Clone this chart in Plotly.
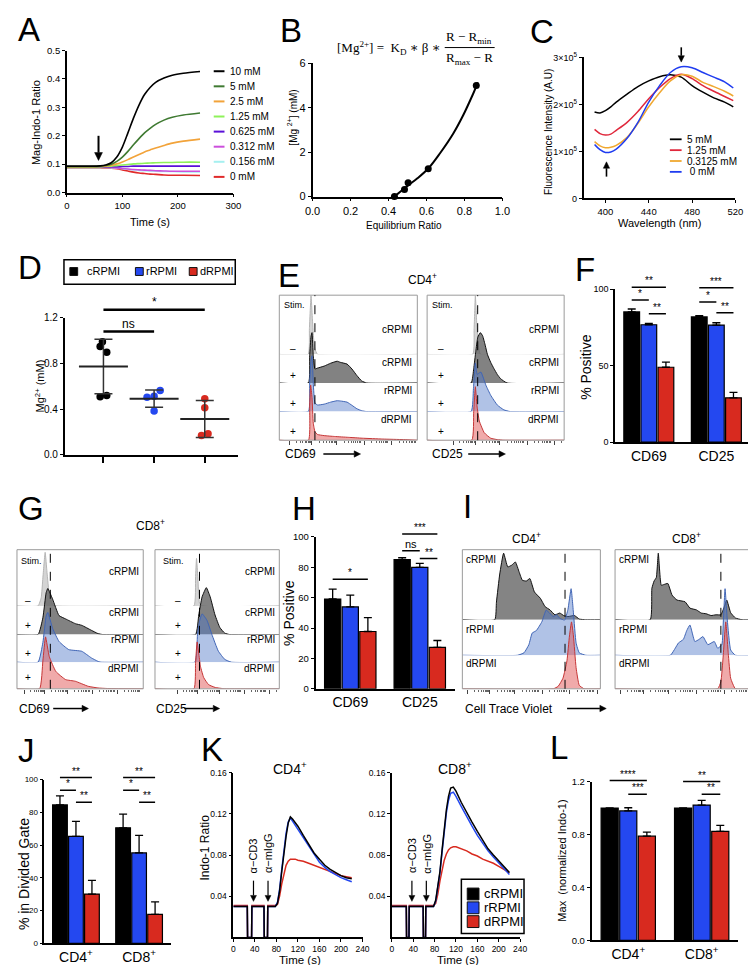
import math
import statistics
import plotly.graph_objects as go

W, H = 756, 965
FONT = "Arial, 'Liberation Sans', Helvetica, sans-serif"
SERIF = "'Liberation Serif', 'DejaVu Serif', 'Times New Roman', serif"
BLACK, BLUE, RED = "#000000", "#2448f0", "#d82a1f"

# ============================ DATA ============================
# ---- A: Mag-Indo-1 ratio vs time for Mg standards
A_time = [0, 20, 40, 60, 70, 80, 90, 100, 110, 120, 130, 140, 150, 160, 175, 190, 210, 240]
A_labels = ["10 mM", "5 mM", "2.5 mM", "1.25 mM", "0.625 mM", "0.312 mM", "0.156 mM", "0 mM"]
A_colors = ["#000000", "#3f7a32", "#f2a33a", "#8ef25a", "#5a10d8", "#cc4fdc", "#a6f0f0", "#e02a2a"]
A_10mM = [0.093, 0.093, 0.093, 0.094, 0.097, 0.105, 0.125, 0.160, 0.210, 0.262, 0.308, 0.345, 0.370, 0.388, 0.403, 0.413, 0.420, 0.426]
A_5mM = [0.092, 0.092, 0.092, 0.093, 0.095, 0.100, 0.110, 0.125, 0.145, 0.168, 0.190, 0.210, 0.226, 0.240, 0.255, 0.265, 0.273, 0.280]
A_2p5mM = [0.091, 0.091, 0.091, 0.092, 0.093, 0.096, 0.101, 0.108, 0.116, 0.125, 0.134, 0.143, 0.150, 0.157, 0.166, 0.174, 0.181, 0.188]
A_1p25mM = [0.090, 0.090, 0.090, 0.091, 0.092, 0.093, 0.095, 0.097, 0.099, 0.101, 0.102, 0.103, 0.104, 0.105, 0.106, 0.106, 0.107, 0.107]
A_0p625mM = [0.089, 0.089, 0.089, 0.090, 0.090, 0.091, 0.091, 0.092, 0.092, 0.093, 0.093, 0.093, 0.093, 0.093, 0.093, 0.093, 0.093, 0.093]
A_0p312mM = [0.089, 0.089, 0.089, 0.089, 0.089, 0.088, 0.087, 0.085, 0.083, 0.081, 0.080, 0.079, 0.078, 0.077, 0.076, 0.075, 0.075, 0.075]
A_0p156mM = [0.088, 0.088, 0.088, 0.088, 0.088, 0.087, 0.086, 0.084, 0.082, 0.080, 0.078, 0.077, 0.076, 0.075, 0.074, 0.074, 0.073, 0.073]
A_0mM = [0.087, 0.087, 0.087, 0.087, 0.087, 0.086, 0.084, 0.080, 0.076, 0.072, 0.069, 0.067, 0.065, 0.064, 0.062, 0.061, 0.061, 0.060]
A_arrow = (57, 0.113)

# ---- B: calibration
B_ratio = [0.431, 0.484, 0.503, 0.609, 0.862]
B_mg = [0.0, 0.3125, 0.625, 1.25, 5.0]
B_fit_ratio = [0.425, 0.448, 0.500, 0.552, 0.609, 0.672, 0.741, 0.793, 0.845, 0.871]
B_fit_mg = [0.0, 0.12, 0.48, 0.82, 1.26, 1.96, 2.84, 3.66, 4.62, 5.14]

# ---- C: emission spectra
C_wl = [390, 395, 400, 405, 410, 420, 430, 440, 450, 460, 470, 480, 490, 500, 510, 518]
C_labels = ["5 mM", "1.25 mM", "0.3125 mM", " 0 mM"]
C_colors = ["#000000", "#e0283c", "#f0a830", "#1f3cf0"]
C_5mM = [184000, 182000, 187000, 195000, 205000, 222000, 238000, 250000, 259000, 263000, 258000, 240000, 226000, 214000, 205000, 195000]
C_1p25mM = [147000, 138000, 135000, 137000, 145000, 162000, 185000, 212000, 236000, 255000, 264000, 255000, 240000, 228000, 217000, 208000]
C_0p3125mM = [121000, 112000, 108000, 109000, 113000, 130000, 160000, 195000, 225000, 250000, 263000, 260000, 247000, 238000, 228000, 218000]
C_0mM = [115000, 104000, 98000, 99000, 105000, 128000, 162000, 205000, 240000, 268000, 280000, 278000, 268000, 258000, 248000, 235000]
C_arrow_peak = (470, 290000)
C_arrow_trough = (401, 78000)

# ---- D: intracellular Mg
D_groups = ["cRPMI", "rRPMI", "dRPMI"]
D_c = [0.99, 0.95, 0.90, 0.52, 0.51]
D_c_jit = [-0.02, -0.065, 0.065, 0.065, -0.065]
D_r = [0.506, 0.515, 0.564, 0.386]
D_r_jit = [-0.14, 0.0, 0.12, 0.0]
D_d = [0.492, 0.414, 0.17, 0.185]
D_d_jit = [0.0, 0.0, -0.065, 0.065]

# ---- E: CD4 CD69 / CD25 histograms (x: channel 0-100, y: in row heights)
E69_neg_x = [20.9, 21.8, 23.0, 23.9, 24.8, 25.8, 27.7]
E69_neg_y = [0, 0.9, 2.05, 1.3, 0.6, 0.2, 0]
E69_c_x = [21.1, 22.0, 23.0, 23.7, 24.6, 25.8, 27.7, 32.5, 37.2, 41.9, 44.3, 49.1, 52.6, 56.2, 59.7, 63.3]
E69_c_y = [0, 0.95, 1.64, 1.76, 0.95, 0.49, 0.52, 0.59, 0.69, 0.76, 0.72, 0.66, 0.49, 0.26, 0.07, 0]
E69_r_x = [21.1, 22.0, 23.0, 23.7, 24.6, 25.8, 27.7, 32.5, 37.2, 41.9, 44.3, 49.1, 52.6, 56.2, 59.7, 63.3]
E69_r_y = [0, 1.0, 1.8, 1.95, 1.0, 0.3, 0.23, 0.26, 0.33, 0.38, 0.37, 0.33, 0.22, 0.1, 0.03, 0]
E69_d_x = [21.1, 22.0, 22.7, 23.7, 24.6, 25.8, 27.7, 32.5, 40, 50, 60, 75, 90]
E69_d_y = [0, 1.2, 1.93, 1.5, 0.6, 0.3, 0.2, 0.16, 0.13, 0.1, 0.07, 0.04, 0.02]
E25_neg_x = [33.3, 34.3, 35.2, 36.2, 37.4, 39.0]
E25_neg_y = [0, 0.9, 2.05, 1.1, 0.3, 0]
E25_c_x = [32.1, 34.0, 35.5, 37.0, 38.8, 40.5, 42.5, 44.0, 46.4, 48.8, 51.2, 53.6, 58.3]
E25_c_y = [0, 0.5, 1.1, 1.6, 1.76, 1.65, 1.3, 1.0, 0.72, 0.5, 0.3, 0.15, 0]
E25_r_x = [32.1, 33.8, 35.2, 36.5, 38.0, 39.3, 42.9, 46.4, 51.2, 56.0, 60.7]
E25_r_y = [0, 0.8, 1.7, 1.3, 1.35, 1.38, 0.92, 0.57, 0.23, 0.06, 0]
E25_d_x = [32.6, 34.0, 35.2, 36.4, 38.1, 41.7, 46.4, 51.2, 56.0]
E25_d_y = [0, 1.0, 1.87, 1.2, 0.67, 0.26, 0.07, 0.02, 0]
E_gates = [25.8, 36.9]

# ---- F: CD4 % positive
F_cats = ["CD69", "CD25"]
F_c = [85.2, 81.9]
F_c_err = [1.9, 0.9]
F_r = [76.8, 76.6]
F_r_err = [0.8, 1.5]
F_d = [49.0, 29.0]
F_d_err = [3.3, 3.5]

# ---- G: CD8 histograms
G69_neg_x = [16.7, 19.2, 20.5, 22.3, 23.8, 25.6, 28.2, 30.8]
G69_neg_y = [0, 0.3, 1.0, 1.92, 1.2, 0.4, 0.05, 0]
G69_c_x = [16.7, 20.5, 23.1, 24.4, 28.2, 33.3, 38.5, 46.2, 51.3, 59.0, 64.1, 67.9]
G69_c_y = [0, 0.6, 1.5, 1.65, 1.27, 0.68, 0.56, 0.39, 0.33, 0.15, 0.035, 0]
G69_r_x = [16.7, 20.5, 23.1, 24.4, 28.2, 33.3, 41.0, 51.3, 59.0, 64.1, 66.7]
G69_r_y = [0, 0.7, 1.65, 1.78, 1.21, 0.74, 0.45, 0.39, 0.15, 0.03, 0]
G69_d_x = [17.9, 20.5, 22.6, 25.6, 30.8, 38.5, 46.2, 56.4, 64.1, 71.8]
G69_d_y = [0, 1.0, 1.86, 1.15, 0.62, 0.33, 0.27, 0.09, 0.03, 0.01]
G25_neg_x = [31.3, 32.6, 33.4, 34.5, 35.8, 37.9]
G25_neg_y = [0, 1.0, 1.7, 1.0, 0.1, 0]
G25_c_x = [32.6, 35.2, 37.9, 41.3, 44.4, 48.3, 52.2, 56.1, 60.1]
G25_c_y = [0, 0.7, 1.35, 1.68, 1.35, 0.7, 0.25, 0.05, 0]
G25_r_x = [32.1, 34.2, 36.0, 37.9, 41.8, 45.7, 50.9, 56.1, 61.4]
G25_r_y = [0, 1.0, 1.5, 1.73, 1.5, 1.0, 0.4, 0.1, 0]
G25_d_x = [31.3, 32.6, 33.9, 36.6, 39.2, 43.1, 48.3, 56.1]
G25_d_y = [0, 0.9, 1.68, 0.8, 0.4, 0.15, 0.05, 0]
G_gates = [26.4, 35.8]

# ---- H: CD8 % positive
H_cats = ["CD69", "CD25"]
H_c = [59.1, 85.1]
H_c_err = [6.5, 1.3]
H_r = [53.9, 79.9]
H_r_err = [7.8, 2.6]
H_d = [37.7, 27.3]
H_d_err = [9.1, 4.5]

# ---- I: Cell Trace Violet
I4_c_x = [23.5, 24.7, 27.1, 29.9, 32.9, 35.8, 38.4, 41.2, 43.5, 46.4, 48.9, 52.2, 56.5, 60.0, 63.5, 67.1, 70.6, 73.4, 76.5, 81.2, 84.7, 89.4]
I4_c_y = [0, 0.5, 1.3, 1.89, 1.5, 1.55, 1.64, 1.35, 1.12, 1.1, 1.17, 0.79, 0.61, 0.37, 0.28, 0.14, 0.19, 0.12, 0.09, 0.12, 0.02, 0]
I4_r_x = [40.0, 44.7, 48.2, 50.6, 53.6, 57.6, 60.7, 63.1, 65.9, 68.2, 70.6, 74.1, 76.5, 78.8, 80.5, 82.4, 84.7, 89.4]
I4_r_y = [0, 0.07, 0.3, 0.63, 0.7, 0.95, 1.28, 1.2, 1.1, 1.15, 1.05, 1.0, 1.3, 1.89, 1.2, 0.35, 0.07, 0]
I4_d_x = [65.9, 69.4, 72.9, 75.8, 77.6, 79.1, 80.5, 82.4, 84.7, 88.2]
I4_d_y = [0, 0.07, 0.3, 0.8, 1.5, 1.9, 1.5, 0.6, 0.1, 0]
I8_c_x = [25.1, 26.3, 27.9, 29.5, 30.9, 33.0, 34.9, 37.7, 40.7, 44.2, 50.0, 53.5, 58.1, 61.6, 65.1, 68.6, 72.1, 75.6, 77.9, 79.8, 82.6, 86.0, 90.7]
I8_c_y = [0, 0.89, 1.1, 1.2, 1.89, 0.98, 1.0, 1.03, 0.7, 0.56, 0.51, 0.33, 0.28, 0.19, 0.17, 0.12, 0.14, 0.14, 0.35, 0.56, 0.2, 0.05, 0]
I8_r_x = [39.5, 43.0, 45.3, 48.8, 51.2, 53.5, 57.0, 60.0, 62.8, 66.3, 70.9, 73.3, 76.3, 77.4, 78.6, 80.2, 82.6, 86.0]
I8_r_y = [0, 0.2, 0.35, 0.45, 0.7, 0.86, 0.39, 0.45, 0.53, 0.3, 0.39, 0.2, 0.3, 1.0, 1.89, 1.0, 0.15, 0]
I8_d_x = [73.3, 75.6, 77.2, 79.1, 80.9, 82.6, 86.0]
I8_d_y = [0, 0.2, 0.9, 1.9, 1.0, 0.3, 0]
I_gates = [74.4, 75.6]

# ---- J: % in divided gate
J_cats = ["CD4+", "CD8+"]
J_c = [84.5, 70.5]
J_c_err = [5.5, 8.4]
J_r = [65.3, 55.2]
J_r_err = [9.2, 10.7]
J_d = [30.1, 17.7]
J_d_err = [8.3, 7.6]

# ---- K: Indo-1 ratio kinetics
K4_time = [0, 26, 26.5, 34, 34.5, 57, 57.5, 63.5, 64, 78, 82, 86, 90, 94, 98, 102, 106, 110, 115, 120, 130, 140, 150, 160, 170, 180, 190, 200, 210, 220]
K4_c = [0.030, 0.030, 0.0, 0.0, 0.030, 0.030, 0.0, 0.0, 0.030, 0.030, 0.033, 0.045, 0.064, 0.082, 0.098, 0.111, 0.117, 0.115, 0.112, 0.108, 0.099, 0.090, 0.082, 0.076, 0.070, 0.066, 0.063, 0.060, 0.058, 0.057]
K4_r = [0.030, 0.030, 0.0, 0.0, 0.030, 0.030, 0.0, 0.0, 0.030, 0.030, 0.034, 0.047, 0.066, 0.085, 0.101, 0.112, 0.116, 0.113, 0.109, 0.105, 0.097, 0.088, 0.080, 0.073, 0.068, 0.064, 0.061, 0.058, 0.056, 0.054]
K4_d = [0.031, 0.031, 0.0, 0.0, 0.031, 0.031, 0.0, 0.0, 0.031, 0.031, 0.032, 0.040, 0.052, 0.062, 0.070, 0.074, 0.076, 0.076, 0.076, 0.075, 0.074, 0.072, 0.070, 0.068, 0.066, 0.064, 0.062, 0.060, 0.059, 0.058]
K8_time = [0, 27, 27.5, 32, 32.5, 58.5, 59, 63, 63.5, 78, 82, 86, 90, 94, 98, 102, 106, 110, 115, 120, 130, 140, 150, 160, 170, 180, 190, 200, 210, 220]
K8_c = [0.030, 0.030, 0.0, 0.0, 0.030, 0.030, 0.0, 0.0, 0.030, 0.030, 0.036, 0.048, 0.064, 0.085, 0.107, 0.124, 0.137, 0.145, 0.146, 0.142, 0.131, 0.121, 0.112, 0.103, 0.094, 0.086, 0.080, 0.074, 0.068, 0.063]
K8_r = [0.030, 0.030, 0.0, 0.0, 0.030, 0.030, 0.0, 0.0, 0.030, 0.030, 0.035, 0.047, 0.063, 0.083, 0.104, 0.121, 0.133, 0.140, 0.141, 0.137, 0.127, 0.117, 0.108, 0.099, 0.091, 0.084, 0.078, 0.072, 0.066, 0.061]
K8_d = [0.031, 0.031, 0.0, 0.0, 0.031, 0.031, 0.0, 0.0, 0.031, 0.031, 0.033, 0.042, 0.055, 0.066, 0.075, 0.081, 0.085, 0.087, 0.088, 0.088, 0.086, 0.084, 0.081, 0.079, 0.076, 0.074, 0.072, 0.069, 0.066, 0.063]
K_stim_time = [37.5, 64.5]
K_stim_level = 0.035
K_stim_labels = ["α−CD3", "α−mIgG"]

# ---- L: normalized max Indo-1
L_cats = ["CD4+", "CD8+"]
L_c = [1.0, 1.0]
L_c_err = [0.0, 0.0]
L_r = [0.978, 1.022]
L_r_err = [0.024, 0.035]
L_d = [0.787, 0.824]
L_d_err = [0.030, 0.045]

# ============================ HELPERS ============================
fig = go.Figure()
layout = {}
annotations = []
shapes = []
AXINFO = {}
AXXINFO = {}


def fx(p):
    return p / W


def fy(p):
    return 1 - p / H


def ref(l, n):
    return l if n == 1 else f"{l}{n}"


def key(l, n):
    return f"{l}axis" if n == 1 else f"{l}axis{n}"


def merge(*ds):
    out = {}
    for d in ds:
        out.update(d)
    return out


def base_axis(fs=10):
    return dict(showline=True, linecolor="black", linewidth=1.6, ticks="outside", ticklen=3,
                tickwidth=1.3, tickcolor="black", showgrid=False, zeroline=False, fixedrange=True,
                tickfont=dict(family=FONT, size=fs, color="black"))


def add_axes(nx, ny, left, right, top, bottom, xo=None, yo=None):
    layout[key("x", nx)] = merge(base_axis(), dict(domain=[fx(left), fx(right)], anchor=ref("y", ny)), xo or {})
    layout[key("y", ny)] = merge(base_axis(), dict(domain=[fy(bottom), fy(top)], anchor=ref("x", nx)), yo or {})
    AXINFO[ny] = (top, bottom, layout[key("y", ny)]["range"])
    rx = layout[key("x", nx)].get("range")
    if rx is not None:
        AXXINFO[nx] = (left, right, rx)


def ypx(ny, val):
    top, bottom, (r0, r1) = AXINFO[ny]
    return bottom - (val - r0) / (r1 - r0) * (bottom - top)


def xpx(nx, val):
    left, right, (r0, r1) = AXXINFO[nx]
    return left + (val - r0) / (r1 - r0) * (right - left)


def ypaper(ny, val):
    return fy(ypx(ny, val))


def text(t, x, y, size=10, xa="center", ya="middle", angle=0, color="black", family=FONT):
    annotations.append(dict(text=t, x=fx(x), y=fy(y), xref="paper", yref="paper", showarrow=False,
                            xanchor=xa, yanchor=ya, textangle=angle,
                            font=dict(size=size, family=family, color=color)))


def line_px(x0, y0, x1, y1, color="black", width=1.5, dash="solid"):
    shapes.append(dict(type="line", xref="paper", yref="paper", x0=fx(x0), x1=fx(x1), y0=fy(y0), y1=fy(y1),
                       line=dict(color=color, width=width, dash=dash)))


def rect_px(x0, y0, x1, y1, color="black", width=1.0, fill="rgba(0,0,0,0)"):
    shapes.append(dict(type="rect", xref="paper", yref="paper", x0=fx(x0), x1=fx(x1), y0=fy(y1), y1=fy(y0),
                       line=dict(color=color, width=width), fillcolor=fill))


def arrow_px(xh, yh, dx, dy, width=1.5, head=6.5, hw=3.2):
    """Arrow whose head is at (xh, yh); tail offset (dx, dy) in pixels."""
    L = math.hypot(dx, dy)
    ux, uy = -dx / L, -dy / L
    bxp, byp = xh - ux * head, yh - uy * head
    line_px(xh + dx, yh + dy, bxp, byp, width=width)
    px_, py_ = -uy * hw, ux * hw
    pts = [(xh, yh), (bxp + px_, byp + py_), (bxp - px_, byp - py_)]
    path = "M " + " L ".join(f"{fx(a):.5f},{fy(b):.5f}" for a, b in pts) + " Z"
    shapes.append(dict(type="path", xref="paper", yref="paper", path=path,
                       fillcolor="black", line=dict(color="black", width=0.5)))


def letter(t, x, y):
    text(t, x, y, size=33, xa="left")


def sig(nx, ny, x0, x1, val, label, fs=10, lw=1.5):
    yp = ypaper(ny, val)
    shapes.append(dict(type="line", xref=ref("x", nx), yref="paper", x0=x0, x1=x1, y0=yp, y1=yp,
                       line=dict(color="black", width=lw)))
    annotations.append(dict(xref=ref("x", nx), yref="paper", x=(x0 + x1) / 2, y=yp, text=label,
                            showarrow=False, yanchor="bottom", yshift=-1,
                            font=dict(size=fs, family=FONT, color="black")))


GREY_NEG = ("rgba(205,205,205,0.85)", "#b5b5b5")
GREY_POS = ("rgba(95,95,95,0.78)", "#111111")
BLUE_H = ("rgba(80,120,200,0.45)", "#4065b5")
RED_H = ("rgba(225,85,85,0.5)", "#c53536")


def flow_ticks(zero):
    major = [zero - 16, zero, zero + 18, zero + 38, zero + 58, zero + 78]
    major = [m for m in major if 1 < m < 99]
    minor = []
    for m in major:
        for k in range(2, 10):
            v = m + 18 * math.log10(k)
            if 1 < v < 99 and m >= zero:
                minor.append(v)
    minor += [zero - 16 + 16 * math.log10(k) for k in range(2, 10)]
    return major, [v for v in minor if 1 < v < 99]


def flow_box(nx, nys, left, right, top, baselines, unit, rows, gate, zero):
    for ny, b, (xs, ys, style) in zip(nys, baselines, rows):
        layout[key("y", ny)] = dict(domain=[fy(b), fy(top)], range=[0, (b - top) / unit], visible=False,
                                    anchor=ref("x", nx), fixedrange=True)
        fig.add_trace(go.Scatter(x=[0] + xs + [100], y=[0] + ys + [0], mode="lines", fill="tozeroy",
                                 fillcolor=style[0], line=dict(color=style[1], width=1, shape="spline", smoothing=0.4),
                                 xaxis=ref("x", nx), yaxis=ref("y", ny), hoverinfo="skip"))
    major, minor = flow_ticks(zero)
    layout[key("x", nx)] = dict(domain=[fx(left), fx(right)], range=[0, 100], anchor=ref("y", nys[-1]),
                                showline=False, showgrid=False, zeroline=False, fixedrange=True,
                                ticks="outside", ticklen=4, tickwidth=1, tickcolor="#444",
                                tickvals=major, showticklabels=False,
                                minor=dict(tickvals=minor, ticks="outside", ticklen=2, tickcolor="#666", tickwidth=0.8))
    rect_px(left, top, right, baselines[-1], color="#9a9a9a", width=1)
    shapes.append(dict(type="line", xref=ref("x", nx), yref="paper", x0=gate, x1=gate,
                       y0=fy(baselines[-1]), y1=fy(top), line=dict(color="black", width=1, dash="dash")))


GROUP_W = 1 - 0.24


def bx(ci, bj):
    return ci + (bj - 1) * GROUP_W / 3


def bar_panel(nx, ny, left, right, top, bottom, cats, catlabels, series, yrange, yticks, yfmt=None, catfs=14, tickfs=9.5):
    yo = dict(range=yrange, tickvals=yticks, tickfont=dict(family=FONT, size=tickfs, color="black"))
    if yfmt:
        yo["tickformat"] = yfmt
    add_axes(nx, ny, left, right, top, bottom,
             xo=dict(type="category", range=[-0.5, len(cats) - 0.5], ticks="", tickvals=cats, ticktext=catlabels,
                     tickfont=dict(family=FONT, size=catfs, color="black")),
             yo=yo)
    for (vals, errs), color in zip(series, [BLACK, BLUE, RED]):
        fig.add_trace(go.Bar(x=cats, y=vals, marker=dict(color=color, line=dict(color="black", width=1.2)),
                             error_y=dict(type="data", symmetric=False, array=errs, arrayminus=[0] * len(errs),
                                          color="black", thickness=1.3, width=4),
                             xaxis=ref("x", nx), yaxis=ref("y", ny), hoverinfo="skip"))


# ============================ PANEL A ============================
add_axes(1, 1, 52, 222, 36, 180,
         xo=dict(range=[0, 300], tickvals=[0, 100, 200, 300], tickfont=dict(family=FONT, size=9.5)),
         yo=dict(range=[0, 0.5], tickvals=[0, 0.1, 0.2, 0.3, 0.4, 0.5], tickformat=".1f",
                 tickfont=dict(family=FONT, size=9.5)))
A_series = [A_10mM, A_5mM, A_2p5mM, A_1p25mM, A_0p625mM, A_0p312mM, A_0p156mM, A_0mM]
for vals, col in list(zip(A_series, A_colors))[::-1]:
    fig.add_trace(go.Scatter(x=A_time, y=vals, mode="lines", line=dict(color=col, width=1.6, shape="spline", smoothing=0.8),
                             xaxis="x", yaxis="y", hoverinfo="skip"))
for i, (lab, col) in enumerate(zip(A_labels, A_colors)):
    yy = 57 + i * 15.3
    line_px(202, yy, 213, yy, color=col, width=2)
    text(lab, 217, yy, size=10, xa="left")
arrow_px(xpx(1, A_arrow[0]), ypx(1, A_arrow[1]), 0, -25, width=2, head=8, hw=4)
text("Mag-Indo-1 Ratio", 20, 109, size=11, angle=-90)
text("Time (s)", 137, 210, size=11)
letter("A", 0, 15)

# ============================ PANEL B ============================
add_axes(2, 2, 303, 497, 49, 184,
         xo=dict(range=[0, 1.0], tickvals=[0, 0.2, 0.4, 0.6, 0.8, 1.0], tickformat=".1f", tickfont=dict(family=FONT, size=11)),
         yo=dict(range=[0, 6], tickvals=[0, 2, 4, 6], tickfont=dict(family=FONT, size=11)))
fig.add_trace(go.Scatter(x=B_fit_ratio, y=B_fit_mg, mode="lines", line=dict(color="black", width=2, shape="spline"),
                         xaxis="x2", yaxis="y2", hoverinfo="skip", cliponaxis=False))
fig.add_trace(go.Scatter(x=B_ratio, y=B_mg, mode="markers", marker=dict(color="black", size=7),
                         xaxis="x2", yaxis="y2", hoverinfo="skip", cliponaxis=False))
text("[Mg <sup>2+</sup>] (mM)", 282, 104, size=10, angle=-90)
text("Equilibrium Ratio", 396, 213, size=10)
text("[Mg<sup>2+</sup>] =  K<sub>D</sub> ∗ β ∗", 436, 33, size=13, xa="right", family=SERIF)
text("R − R<sub>min</sub>", 463, 23, size=13, family=SERIF)
text("R<sub>max</sub> − R", 463, 44, size=13, family=SERIF)
line_px(438, 33, 489, 33, width=1)
letter("B", 268, 16)

# ============================ PANEL C ============================
add_axes(3, 3, 580, 735, 43, 186,
         xo=dict(range=[380, 520], tickvals=[400, 440, 480, 520], tickfont=dict(family=FONT, size=9.5)),
         yo=dict(range=[0, 300000], tickvals=[0, 100000, 200000, 300000],
                 ticktext=["0", "1×10<sup>5</sup>", "2×10<sup>5</sup>", "3×10<sup>5</sup>"],
                 tickfont=dict(family=FONT, size=9)))
for vals, col in zip([C_5mM, C_1p25mM, C_0p3125mM, C_0mM], C_colors):
    fig.add_trace(go.Scatter(x=C_wl, y=vals, mode="lines", line=dict(color=col, width=1.5, shape="spline", smoothing=0.8),
                             xaxis="x3", yaxis="y3", hoverinfo="skip"))
for i, (lab, col) in enumerate(zip(C_labels, C_colors)):
    yy = 126 + i * 11
    line_px(668, yy, 680, yy, color=col, width=1.8)
    text(lab, 683, yy, size=10, xa="left")
arrow_px(xpx(3, C_arrow_peak[0]), ypx(3, C_arrow_peak[1]), 0, -15, width=1.6)
arrow_px(xpx(3, C_arrow_trough[0]), ypx(3, C_arrow_trough[1]), 0, 15, width=1.6)
text("Fluorescence Intensity (A.U)", 544, 118, size=10, angle=-90)
text("Wavelength (nm)", 657, 211, size=11)
letter("C", 523, 17)

# ============================ PANEL D ============================
add_axes(4, 4, 50, 227, 307, 446,
         xo=dict(range=[0.24, 3.66], tickvals=[1, 2, 3], showticklabels=False, ticklen=6, tickwidth=1.5, linewidth=2),
         yo=dict(range=[0, 1.2], tickvals=[0, 0.4, 0.8, 1.2], tickformat=".1f", linewidth=2,
                 tickfont=dict(family=FONT, size=10)))
for gi, (vals, jit, col) in enumerate(zip([D_c, D_r, D_d], [D_c_jit, D_r_jit, D_d_jit], [BLACK, BLUE, RED])):
    cx = gi + 1
    m = statistics.mean(vals)
    sd = statistics.stdev(vals)
    fig.add_trace(go.Scatter(x=[cx + j for j in jit], y=vals, mode="markers", marker=dict(color=col, size=7.5),
                             xaxis="x4", yaxis="y4", hoverinfo="skip"))
    fig.add_trace(go.Scatter(x=[cx], y=[m], mode="markers",
                             marker=dict(symbol="line-ew-open", size=35, color="#222222",
                                         line=dict(color="#222222", width=2)),
                             error_y=dict(type="data", array=[sd], color="#333333", thickness=1.5, width=9),
                             xaxis="x4", yaxis="y4", hoverinfo="skip"))
sig(4, 4, 1, 3, 1.27, "*", fs=12, lw=2.5)
sig(4, 4, 1, 2, 1.08, "ns", fs=12, lw=2.5)
rect_px(49, 248, 224, 273, color="black", width=1.5)
for (lab, col, sx, tx) in [("cRPMI", BLACK, 55, 70), ("rRPMI", BLUE, 122, 131), ("dRPMI", RED, 177, 186)]:
    rect_px(sx, 256, sx + 8, 264, color="#111", width=1, fill=col)
    text(lab, tx, 260, size=11, xa="left")
text("Mg<sup>2+</sup> (mM)", 24, 376, size=11, angle=-90)
letter("D", 0, 256)

# ============================ PANEL E ============================
E_top, E_base, E_unit = 284, [344, 373, 402, 431], 29
flow_box(5, [5, 6, 7, 8], 269, 410, E_top, E_base, E_unit,
         [(E69_neg_x, E69_neg_y, GREY_NEG), (E69_c_x, E69_c_y, GREY_POS),
          (E69_r_x, E69_r_y, BLUE_H), (E69_d_x, E69_d_y, RED_H)], E_gates[0], 23.5)
flow_box(6, [9, 10, 11, 12], 420, 560, E_top, E_base, E_unit,
         [(E25_neg_x, E25_neg_y, GREY_NEG), (E25_c_x, E25_c_y, GREY_POS),
          (E25_r_x, E25_r_y, BLUE_H), (E25_d_x, E25_d_y, RED_H)], E_gates[1], 35.0)
text("CD4<sup>+</sup>", 415, 268, size=12)
for (bl, lab_right) in [(269, 407), (420, 557)]:
    text("Stim.", bl + 3, 294, size=9, xa="left")
    for sgn, yy in zip(["–", "+", "+", "+"], [338, 365, 394, 422]):
        text(sgn, bl + 14, yy, size=10)
    for lab, yy in zip(["cRPMI", "cRPMI", "rRPMI", "dRPMI"], [319, 352, 381, 410]):
        text(lab, lab_right, yy, size=10, xa="right")
text("CD69", 273, 445, size=12, xa="left")
arrow_px(352, 445, -38, 0)
text("CD25", 423, 445, size=12, xa="left")
arrow_px(500, 445, -38, 0)
letter("E", 266, 264)

# ============================ PANEL F ============================
bar_panel(7, 13, 612, 750, 278, 433, F_cats, ["CD69", "CD25"],
          [(F_c, F_c_err), (F_r, F_r_err), (F_d, F_d_err)], [0, 100], [0, 50, 100], tickfs=9)
sig(7, 13, bx(0, 0), bx(0, 2), 101.3, "**")
sig(7, 13, bx(0, 0), bx(0, 1), 92.9, "*")
sig(7, 13, bx(0, 1), bx(0, 2), 83.9, "**")
sig(7, 13, bx(1, 0), bx(1, 2), 101.0, "***")
sig(7, 13, bx(1, 0), bx(1, 1), 91.6, "*")
sig(7, 13, bx(1, 1), bx(1, 2), 84.7, "**")
text("% Positive", 583, 357, size=14, angle=-90)
letter("F", 569, 258)

# ============================ PANEL G ============================
G_top, G_base, G_unit = 542, [599, 628, 656, 683], 28.3
flow_box(8, [14, 15, 16, 17], 1, 130, G_top, G_base, G_unit,
         [(G69_neg_x, G69_neg_y, GREY_NEG), (G69_c_x, G69_c_y, GREY_POS),
          (G69_r_x, G69_r_y, BLUE_H), (G69_d_x, G69_d_y, RED_H)], G_gates[0], 22.0)
flow_box(9, [18, 19, 20, 21], 142, 269, G_top, G_base, G_unit,
         [(G25_neg_x, G25_neg_y, GREY_NEG), (G25_c_x, G25_c_y, GREY_POS),
          (G25_r_x, G25_r_y, BLUE_H), (G25_d_x, G25_d_y, RED_H)], G_gates[1], 34.0)
text("CD8<sup>+</sup>", 137, 517, size=12)
text("Stim.", 3, 553, size=9, xa="left")
text("Stim.", 148, 553, size=9, xa="left")
for sx in [12, 166]:
    for sgn, yy in zip(["–", "+", "+", "+"], [594, 619, 647, 672]):
        text(sgn, sx, yy, size=10)
for rx in [128, 267]:
    for lab, yy in zip(["cRPMI", "cRPMI", "rRPMI", "dRPMI"], [564, 606, 633, 662]):
        text(lab, rx, yy, size=10, xa="right")
text("CD69", 1, 703, size=12, xa="left")
arrow_px(74, 703, -36, 0)
text("CD25", 141, 703, size=12, xa="left")
arrow_px(208, 703, -36, 0)
letter("G", 0, 500)

# ============================ PANEL H ============================
bar_panel(10, 22, 306, 448, 529, 683, H_cats, ["CD69", "CD25"],
          [(H_c, H_c_err), (H_r, H_r_err), (H_d, H_d_err)], [0, 100], [0, 20, 40, 60, 80, 100])
sig(10, 22, bx(0, 0), bx(0, 2), 72.1, "*")
sig(10, 22, bx(1, 0), bx(1, 2), 101.9, "***")
sig(10, 22, bx(1, 0), bx(1, 1), 90.9, "ns", fs=11)
sig(10, 22, bx(1, 1), bx(1, 2), 85.7, "**")
text("% Positive", 279, 606, size=14, angle=-90)
letter("H", 280, 500)

# ============================ PANEL I ============================
I_top, I_base, I_unit = 542, [613, 649, 683], 35.7
GREY_I = ("rgba(110,110,110,0.85)", "#111111")
flow_box(11, [23, 24, 25], 456, 597, I_top, I_base, I_unit,
         [(I4_c_x, I4_c_y, GREY_I), (I4_r_x, I4_r_y, BLUE_H), (I4_d_x, I4_d_y, RED_H)], I_gates[0], 20.0)
flow_box(12, [26, 27, 28], 612, 755, I_top, I_base, I_unit,
         [(I8_c_x, I8_c_y, GREY_I), (I8_r_x, I8_r_y, BLUE_H), (I8_d_x, I8_d_y, RED_H)], I_gates[1], 20.0)
text("CD4<sup>+</sup>", 522, 530, size=12)
text("CD8<sup>+</sup>", 685, 530, size=12)
for lx in [458, 614]:
    for lab, yy in zip(["cRPMI", "rRPMI", "dRPMI"], [552, 623, 657]):
        text(lab, lx, yy, size=10, xa="left")
text("Cell Trace Violet", 457, 703, size=12, xa="left")
arrow_px(603, 703, -40, 0)
letter("I", 455, 498)

# ============================ PANEL J ============================
bar_panel(13, 29, 29, 158, 775, 941, J_cats, ["CD4<sup>+</sup>", "CD8<sup>+</sup>"],
          [(J_c, J_c_err), (J_r, J_r_err), (J_d, J_d_err)], [0, 100], [0, 20, 40, 60, 80, 100], tickfs=8)
for ci in range(2):
    sig(13, 29, bx(ci, 0), bx(ci, 2), 101.2, "**")
    sig(13, 29, bx(ci, 0), bx(ci, 1), 93.4, "*")
    sig(13, 29, bx(ci, 1), bx(ci, 2), 86.1, "**")
text("% in Divided Gate", 8, 871, size=14, angle=-90)
letter("J", 0, 746)

# ============================ PANEL K ============================
for nx, ny, left, right, t, series, title, tx, lx in [
        (14, 30, 222, 354, K4_time, [K4_d, K4_r, K4_c], "CD4<sup>+</sup>", 280, [242, 257]),
        (15, 31, 384, 515, K8_time, [K8_d, K8_r, K8_c], "CD8<sup>+</sup>", 448, [404, 419])]:
    add_axes(nx, ny, left, right, 768, 935,
             xo=dict(range=[0, 240], tickvals=[0, 40, 80, 120, 160, 200, 240], tickfont=dict(family=FONT, size=8.5)),
             yo=dict(range=[0, 0.16], tickvals=[0.04, 0.08, 0.12, 0.16], tickformat=".2f",
                     tickfont=dict(family=FONT, size=8.5)))
    for vals, col in zip(series, [RED, BLUE, BLACK]):
        fig.add_trace(go.Scatter(x=t, y=vals, mode="lines", line=dict(color=col, width=1.5),
                                 xaxis=ref("x", nx), yaxis=ref("y", ny), hoverinfo="skip"))
    for st, lab, lxx, ly in zip(K_stim_time, K_stim_labels, lx, [852, 850]):
        arrow_px(xpx(nx, st), ypx(ny, K_stim_level), 0, -21, width=1.2, head=6, hw=3)
        text(lab, lxx, ly, size=11, angle=-90)
    text(title, tx, 763, size=14)
    text("Time (s)", (left + right) / 2 + 2, 958, size=11.5)
text("Indo-1 Ratio", 193, 844, size=12, angle=-90)
rect_px(455, 876, 519, 931, color="black", width=1.5)
for lab, col, yy in [("cRPMI", BLACK, 891), ("rRPMI", BLUE, 905), ("dRPMI", RED, 919)]:
    rect_px(461, yy - 6, 473, yy + 6, color="#111", width=1, fill=col)
    text(lab, 476, yy, size=13, xa="left")
letter("K", 187, 745)

# ============================ PANEL L ============================
bar_panel(16, 32, 588, 738, 777, 938, L_cats, ["CD4<sup>+</sup>", "CD8<sup>+</sup>"],
          [(L_c, L_c_err), (L_r, L_r_err), (L_d, L_d_err)], [0, 1.2], [0, 0.4, 0.8, 1.2], yfmt=".1f")
sig(16, 32, bx(0, 0), bx(0, 2), 1.207, "****")
sig(16, 32, bx(0, 1), bx(0, 2), 1.103, "***")
sig(16, 32, bx(1, 0), bx(1, 2), 1.20, "**")
sig(16, 32, bx(1, 1), bx(1, 2), 1.103, "**")
text("Max  (normalized Indo-1)", 558, 857, size=11, angle=-90)
letter("L", 543, 743)

# ============================ LAYOUT ============================
layout.update(dict(width=W, height=H, autosize=False, margin=dict(l=0, r=0, t=0, b=0, pad=0),
                   paper_bgcolor="white", plot_bgcolor="rgba(0,0,0,0)", showlegend=False,
                   barmode="group", bargap=0.24, bargroupgap=0.08, hovermode=False,
                   font=dict(family=FONT, size=10, color="black"),
                   annotations=annotations, shapes=shapes))
fig.update_layout(**layout)
fig.write_html("out.html")
